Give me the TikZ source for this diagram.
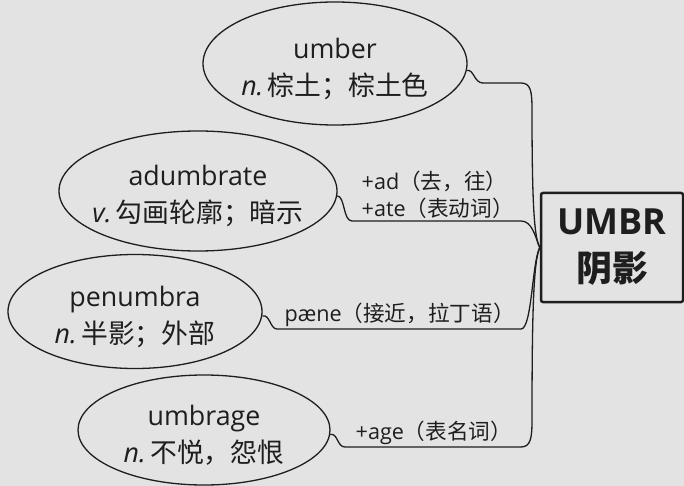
\documentclass[tikz,border=0pt]{standalone}
\usepackage{fontspec}
\setmainfont{Open Sans}
\newfontfamily\cjk{Noto Sans CJK SC}
\usetikzlibrary{shapes.geometric}

\definecolor{bgcol}{RGB}{227,227,227}
\definecolor{inkcol}{RGB}{30,30,30}

\tikzset{
  leaf/.style={ellipse, draw=inkcol, line width=1.3pt},
  wordtxt/.style={align=center, text=inkcol, yshift=-5, font=\fontsize{26.8}{37}\selectfont},
  affix/.style={text=inkcol, align=left, inner sep=2pt, font=\fontsize{21.6}{27}\selectfont},
  rootbox/.style={draw=inkcol, line width=2.5pt, rounded corners=2pt, align=center,
    text=inkcol, font=\bfseries\fontsize{36}{47}\selectfont},
  link/.style={draw=inkcol, line width=1.3pt}
}

\begin{document}
\begin{tikzpicture}[x=1pt,y=-1pt]
        % Background
        \fill[bgcol] (0,0) rectangle (684,486);
        \useasboundingbox (0,0) rectangle (684,486);
        % Draw the root
        \node[rootbox, minimum width=142, minimum height=109] (root) at (612,247.5) {UMBR\\{\cjk 阴影}};
        % Draw the words
        \node[leaf, minimum width=264, minimum height=123] (umber) at (335,63.5) {};
        \node[leaf, minimum width=278, minimum height=120] (adumbrate) at (198,191) {};
        \node[leaf, minimum width=254, minimum height=114] (penumbra) at (135,311.5) {};
        \node[leaf, minimum width=252, minimum height=110] (umbrage) at (204,430) {};
        % Label the words
        \node[wordtxt] (umber-t) at (umber) {umber\\\textit{n.}\,{\cjk 棕土；棕土色}};
        \node[wordtxt] (adumbrate-t) at (adumbrate) {adumbrate\\\textit{v.}\,{\cjk 勾画轮廓；暗示}};
        \node[wordtxt] (penumbra-t) at (penumbra) {penumbra\\\textit{n.}\,{\cjk 半影；外部}};
        \node[wordtxt] (umbrage-t) at (umbrage) {umbrage\\\textit{n.}\,{\cjk 不悦，怨恨}};
        % Draw the links
        \draw[link] (umber.-3) .. controls (474,69) and (474,83) .. (483,83) -- (521,83)
            .. controls (531,83) and (532,92) .. (532,110)
            .. controls (532,200) and (534,238) .. (root.west);
        \draw[link] (adumbrate.-2) .. controls (345,196) and (343,221) .. (352,221)
            node[affix, above right, xshift=7] (ad) {+ad{\cjk （去，往）}\\+ate{\cjk （表动词）}}
            -- (521,221) .. controls (532,221) and (535,236) .. (root.west);
        \draw[link] (penumbra.-2) .. controls (270,314) and (270,329) .. (277,329)
            node[affix, above right, xshift=5] (paene) {pæne{\cjk （接近，拉丁语）}}
            -- (521,329) .. controls (532,329) and (532,262) .. (root.west);
        \draw[link] (umbrage.-2) .. controls (338,433) and (337,447) .. (345,447)
            node[affix, above right, xshift=8] (age) {+age{\cjk （表名词）}}
            -- (521,447) .. controls (531,447) and (532,437) .. (532,420)
            .. controls (532,300) and (534,262) .. (root.west);
\end{tikzpicture}
\end{document}
